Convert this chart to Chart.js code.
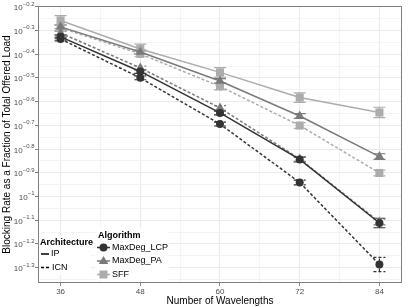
<!DOCTYPE html>
<html><head><meta charset="utf-8">
<script src="https://cdn.jsdelivr.net/npm/chart.js@4"></script>
<style>html,body{margin:0;padding:0;background:#fff}#wrap{width:409px;height:307px}</style>
</head><body><div id="wrap"><canvas id="c" width="409" height="307"></canvas></div>
<script>
// ---- data (log10 of blocking rate) ----
const wavelengths = [36, 48, 60, 72, 84];
const lcpIP  = [-0.327, -0.473, -0.648, -0.844, -1.112];
const lcpICN = [-0.336, -0.500, -0.695, -0.941, -1.287];
const paIP   = [-0.285, -0.391, -0.513, -0.661, -0.832];
const paICN  = [-0.311, -0.458, -0.627, -0.842, -1.108];
const sffIP  = [-0.258, -0.378, -0.477, -0.583, -0.646];
const sffICN = [-0.289, -0.399, -0.536, -0.701, -0.901];
// error half-widths (log10 units)
const lcpIPErr  = [0.008, 0.008, 0.008, 0.010, 0.020];
const lcpICNErr = [0.008, 0.008, 0.008, 0.010, 0.030];
const paIPErr   = [0.008, 0.008, 0.010, 0.010, 0.012];
const paICNErr  = [0.008, 0.008, 0.010, 0.010, 0.012];
const sffIPErr  = [0.020, 0.020, 0.020, 0.020, 0.022];
const sffICNErr = [0.012, 0.012, 0.015, 0.012, 0.012];
const yTickExponents = [-0.2, -0.3, -0.4, -0.5, -0.6, -0.7, -0.8, -0.9, -1, -1.1, -1.2, -1.3];
const yTickLabels = ['\u22120.2','\u22120.3','\u22120.4','\u22120.5','\u22120.6','\u22120.7','\u22120.8','\u22120.9','\u22121','\u22121.1','\u22121.2','\u22121.3'];
const xTickValues = [36, 48, 60, 72, 84];
const xMinorValues = [42, 54, 66, 78];

const FONT = '"Liberation Sans", Arial, Helvetica, sans-serif';
Chart.defaults.font.family = FONT;

const C_LCP = '#333333', C_PA = '#7a7a7a', C_SFF = '#acacac';
const DASH = [3, 2];

function ds(label, vals, errs, color, dashed, style, radius) {
  return {
    label, err: errs, logv: vals, dashed,
    data: wavelengths.map((x, i) => ({x, y: Math.pow(10, vals[i])})),
    borderColor: color, backgroundColor: color,
    borderWidth: 1.5, borderDash: dashed ? DASH : [],
    pointStyle: style, pointRadius: radius, pointHoverRadius: radius,
    pointBorderWidth: 0, pointBackgroundColor: color, pointBorderColor: color,
    fill: false, tension: 0
  };
}

const datasets = [
  ds('MaxDeg_LCP IP',  lcpIP,  lcpIPErr,  C_LCP, false, 'circle', 4),
  ds('MaxDeg_LCP ICN', lcpICN, lcpICNErr, C_LCP, true,  'circle', 4),
  ds('MaxDeg_PA IP',   paIP,   paIPErr,   C_PA,  false, 'triangle', 5.5),
  ds('MaxDeg_PA ICN',  paICN,  paICNErr,  C_PA,  true,  'triangle', 5.5),
  ds('SFF IP',  sffIP,  sffIPErr,  C_SFF, false, 'rect', 5.7),
  ds('SFF ICN', sffICN, sffICNErr, C_SFF, true,  'rect', 5.7)
];

const yMinor = [];
for (let i = 0; i < yTickExponents.length; i++) {
  yMinor.push(yTickExponents[i]);
  yMinor.push(yTickExponents[i] - 0.05);
}

const deco = {
  id: 'deco',
  beforeDatasetsDraw(chart) {
    const {ctx, chartArea: a, scales: {x, y}} = chart;
    ctx.save();
    // error bars
    chart.data.datasets.forEach(d => {
      ctx.strokeStyle = d.borderColor;
      ctx.lineWidth = 1.2;
      ctx.setLineDash(d.dashed ? DASH : []);
      d.logv.forEach((v, i) => {
        const px = x.getPixelForValue(wavelengths[i]);
        const lo = y.getPixelForValue(Math.pow(10, v - d.err[i]));
        const hi = y.getPixelForValue(Math.pow(10, v + d.err[i]));
        ctx.beginPath();
        ctx.moveTo(px, lo); ctx.lineTo(px, hi);
        ctx.moveTo(px - 6, lo); ctx.lineTo(px + 6, lo);
        ctx.moveTo(px - 6, hi); ctx.lineTo(px + 6, hi);
        ctx.stroke();
      });
    });
    ctx.restore();
  },
  afterDraw(chart) {
    const {ctx, chartArea: a, scales: {y}} = chart;
    ctx.save();
    // panel border
    ctx.strokeStyle = '#7f7f7f';
    ctx.lineWidth = 1;
    ctx.setLineDash([]);
    ctx.strokeRect(Math.round(a.left) + 0.5, Math.round(a.top) + 0.5, Math.round(a.right - a.left) - 1, Math.round(a.bottom - a.top) - 1);
    // y tick labels 10^e
    ctx.fillStyle = '#4d4d4d';
    yTickExponents.forEach((e, i) => {
      const py = y.getPixelForValue(Math.pow(10, e));
      ctx.font = '6px ' + FONT;
      ctx.textAlign = 'right';
      ctx.textBaseline = 'alphabetic';
      const sw = ctx.measureText(yTickLabels[i]).width;
      const right = a.left - 3.5;
      ctx.fillText(yTickLabels[i], right, py - 1);
      ctx.font = '8px ' + FONT;
      ctx.fillText('10', right - sw, py + 3.5);
    });
    // legends
    ctx.fillStyle = '#fff';
    ctx.fillRect(39, 235, 52, 40);
    ctx.fillRect(95, 228, 74, 52);
    ctx.fillStyle = '#000';
    ctx.textAlign = 'left';
    ctx.textBaseline = 'middle';
    ctx.font = 'bold 9px ' + FONT;
    ctx.fillText('Architecture', 40, 242.5);
    ctx.fillText('Algorithm', 98, 235.5);
    ctx.font = '9px ' + FONT;
    ctx.strokeStyle = '#000';
    ctx.lineWidth = 1.5;
    ctx.beginPath(); ctx.moveTo(41, 254); ctx.lineTo(49, 254); ctx.stroke();
    ctx.setLineDash(DASH);
    ctx.beginPath(); ctx.moveTo(41, 267.5); ctx.lineTo(50, 267.5); ctx.stroke();
    ctx.setLineDash([]);
    ctx.fillText('IP', 51, 254);
    ctx.fillText('ICN', 52, 267.5);
    const items = [['MaxDeg_LCP', C_LCP, 'circle', 247.5], ['MaxDeg_PA', C_PA, 'triangle', 261], ['SFF', C_SFF, 'rect', 274.5]];
    items.forEach(([t, c, s, py]) => {
      ctx.strokeStyle = c; ctx.fillStyle = c; ctx.lineWidth = 1.5;
      ctx.beginPath(); ctx.moveTo(97, py); ctx.lineTo(110, py); ctx.stroke();
      ctx.beginPath();
      if (s === 'circle') { ctx.arc(103.5, py, 4, 0, Math.PI * 2); }
      else if (s === 'triangle') { ctx.moveTo(103.5, py - 5); ctx.lineTo(108.3, py + 3); ctx.lineTo(98.7, py + 3); ctx.closePath(); }
      else { ctx.rect(99.5, py - 4, 8, 8); }
      ctx.fill();
      ctx.fillStyle = '#000';
      ctx.fillText(t, 112, py);
    });
    ctx.restore();
  }
};

new Chart(document.getElementById('c'), {
  type: 'line',
  data: {datasets},
  options: {
    responsive: false, animation: false, events: [],
    layout: {padding: {top: 6, right: 7, left: 0, bottom: 0}},
    plugins: {legend: {display: false}, tooltip: {enabled: false}},
    scales: {
      x: {
        type: 'linear', min: 32.6, max: 87.4,
        afterBuildTicks: s => { s.ticks = [...xTickValues, ...xMinorValues].sort((p, q) => p - q).map(v => ({value: v})); },
        afterFit: s => { s.height = 24; },
        ticks: {
          autoSkip: false, maxRotation: 0, padding: 1, color: '#4d4d4d', font: {size: 8},
          callback: v => xTickValues.includes(v) ? String(v) : ''
        },
        grid: {
          color: c => (c.tick && xTickValues.includes(c.tick.value)) ? '#ebebeb' : '#f4f4f4',
          tickColor: c => (c.tick && xTickValues.includes(c.tick.value)) ? '#7f7f7f' : 'rgba(0,0,0,0)',
          tickLength: 3, lineWidth: 1
        },
        border: {display: false},
        title: {display: true, text: 'Number of Wavelengths', color: '#000', font: {size: 10}, padding: {top: 0, bottom: 0}}
      },
      y: {
        type: 'logarithmic', min: Math.pow(10, -1.365), max: Math.pow(10, -0.197),
        afterBuildTicks: s => { s.ticks = yMinor.map((e, i) => ({value: Math.pow(10, e), major: i % 2 === 0})); },
        afterFit: s => { s.width = 38; },
        ticks: {display: false},
        grid: {
          color: c => (c.index % 2 === 0) ? '#ebebeb' : '#f4f4f4',
          tickColor: c => (c.index % 2 === 0) ? '#7f7f7f' : 'rgba(0,0,0,0)',
          tickLength: 3, lineWidth: 1
        },
        border: {display: false},
        title: {display: true, text: 'Blocking Rate as a Fraction of Total Offered Load', color: '#000', font: {size: 10}, padding: {top: 1, bottom: 0}}
      }
    }
  },
  plugins: [deco]
});
</script></body></html>
